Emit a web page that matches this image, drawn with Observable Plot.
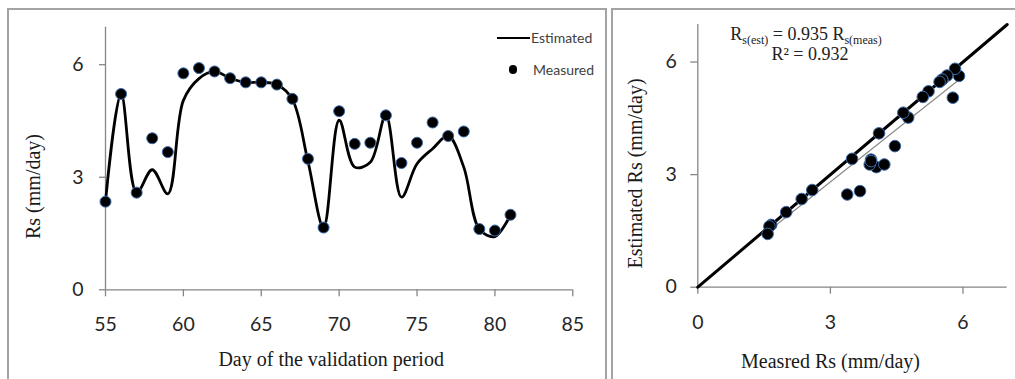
<!DOCTYPE html>
<html><head><meta charset="utf-8">
<script src="https://cdn.jsdelivr.net/npm/d3@7"></script>
<script src="https://cdn.jsdelivr.net/npm/@observablehq/plot@0.6"></script>
<style>
html,body{margin:0;padding:0;background:#fff;}
body{width:1015px;height:379px;overflow:hidden;position:relative;font-family:Lato,sans-serif;}
.abs{position:absolute;}
.panel{position:absolute;border:2px solid #a3a3a3;border-bottom:none;box-sizing:border-box;}
.leg{position:absolute;font-family:Lato,sans-serif;font-size:14px;color:#404040;line-height:16px;}
.eq{position:absolute;font-family:"Liberation Serif",serif;font-size:18px;line-height:20px;color:#222;text-align:center;white-space:nowrap;}
.eq .sb{font-size:12px;position:relative;top:4px;}
</style></head><body>
<div class="panel" style="left:7px;top:8px;width:600px;height:380px;"></div>
<div class="panel" style="left:611px;top:8px;width:420px;height:380px;border-right:none;"></div>
<div id="left" class="abs" style="left:0;top:0;"></div>
<div id="right" class="abs" style="left:612px;top:0;"></div>
<div class="abs" style="left:497px;top:36.5px;width:33px;height:0;border-top:2.6px solid #000;"></div>
<div class="leg" style="left:531px;top:30px;">Estimated</div>
<div class="abs" style="left:508.5px;top:65px;width:8.5px;height:8.5px;border-radius:50%;background:#000;"></div>
<div class="leg" style="left:533px;top:62px;">Measured</div>
<div class="eq" style="left:706px;top:24px;width:200px;">R<span class="sb">s(est)</span> = 0.935 R<span class="sb">s(meas)</span></div>
<div class="eq" style="left:710px;top:44px;width:200px;">R² = 0.932</div>
<script>
const days = [55,56,57,58,59,60,61,62,63,64,65,66,67,68,69,70,71,72,73,74,75,76,77,78,79,80,81];
const measured = [2.35,5.22,2.59,4.04,3.67,5.77,5.91,5.82,5.64,5.53,5.53,5.47,5.09,3.49,1.66,4.76,3.89,3.92,4.65,3.38,3.92,4.46,4.10,4.22,1.62,1.58,2.00];
const estimated = [2.35,5.22,2.59,3.20,2.56,5.05,5.63,5.82,5.64,5.53,5.53,5.47,5.07,3.42,1.66,4.52,3.27,3.40,4.65,2.47,3.36,3.76,4.10,3.27,1.62,1.42,2.00];
const dayTicks = [55,60,65,70,75,80,85];
const rsTicks = [0,3,6];
const dayDomain = [55,85];
const rsDomain = [0,7];
const slope = 0.935;
const xTitleLeft = "Day of the validation period";
const yTitleLeft = "Rs (mm/day)";
const xTitleRight = "Measred Rs (mm/day)";
const yTitleRight = "Estimated Rs (mm/day)";

const rows = days.map((d,i)=>({day:d, measured:measured[i], estimated:estimated[i]}));
const oneToOne = rsDomain.map(v=>({x:v,y:v}));
const mExt = d3.extent(measured);
const fit = mExt.map(v=>({x:v,y:slope*v}));

const axisGray = "#868686";
const tickText = "#262626";
const serif = "Liberation Serif";

const left = Plot.plot({
  width:606, height:379,
  marginLeft:105, marginRight:33.7, marginTop:26.7, marginBottom:89.7,
  x:{domain:dayDomain}, y:{domain:rsDomain},
  style:{background:"transparent", overflow:"visible"},
  marks:[
    Plot.ruleY([0],{stroke:axisGray,strokeWidth:1.3}),
    Plot.ruleX([dayDomain[0]],{stroke:axisGray,strokeWidth:1.3}),
    Plot.axisX(dayTicks,{tickSize:7,tickPadding:20,stroke:axisGray,strokeWidth:1.3,fill:tickText,fontSize:19.5,fontFamily:"Lato",label:null}),
    Plot.axisY(rsTicks,{tickSize:6,tickPadding:16,stroke:axisGray,strokeWidth:1.3,fill:tickText,fontSize:19.5,fontFamily:"Lato",label:null}),
    Plot.line(rows,{x:"day",y:"estimated",curve:"catmull-rom",stroke:"#000",strokeWidth:2.8}),
    Plot.dot(rows,{x:"day",y:"measured",r:5.5,fill:"#000",stroke:"#3a6aa8",strokeWidth:1}),
    Plot.text([xTitleLeft],{frameAnchor:"bottom",textAnchor:"middle",dx:-8,dy:70,lineAnchor:"middle",fontFamily:serif,fontSize:20,fill:"#1a1a1a"}),
    Plot.text([yTitleLeft],{frameAnchor:"left",textAnchor:"middle",rotate:-90,dx:-72,dy:28,lineAnchor:"middle",fontFamily:serif,fontSize:20,fill:"#1a1a1a"})
  ]
});
document.getElementById("left").appendChild(left);

const right = Plot.plot({
  width:403, height:379,
  marginLeft:85.3, marginRight:8.3, marginTop:24, marginBottom:92.3,
  x:{domain:rsDomain}, y:{domain:rsDomain},
  style:{background:"transparent", overflow:"visible"},
  marks:[
    Plot.ruleY([0],{stroke:axisGray,strokeWidth:1.3}),
    Plot.ruleX([0],{stroke:axisGray,strokeWidth:1.3}),
    Plot.axisX(rsTicks,{tickSize:7,tickPadding:21,stroke:axisGray,strokeWidth:1.3,fill:tickText,fontSize:19.5,fontFamily:"Lato",label:null}),
    Plot.axisY(rsTicks,{tickSize:7,tickPadding:14,stroke:axisGray,strokeWidth:1.3,fill:tickText,fontSize:19.5,fontFamily:"Lato",label:null}),
    Plot.line(fit,{x:"x",y:"y",stroke:"#8a8a8a",strokeWidth:1.2}),
    Plot.line(oneToOne,{x:"x",y:"y",stroke:"#000",strokeWidth:3}),
    Plot.dot(rows,{x:"measured",y:"estimated",r:5.8,fill:"#000",stroke:"#3a6aa8",strokeWidth:1}),
    Plot.text([xTitleRight],{frameAnchor:"bottom",textAnchor:"middle",dx:-22,dy:74,lineAnchor:"middle",fontFamily:serif,fontSize:20,fill:"#1a1a1a"}),
    Plot.text([yTitleRight],{frameAnchor:"left",textAnchor:"middle",rotate:-90,dx:-62.3,dy:17.6,lineAnchor:"middle",fontFamily:serif,fontSize:20,fill:"#1a1a1a"})
  ]
});
document.getElementById("right").appendChild(right);
</script>
</body></html>
